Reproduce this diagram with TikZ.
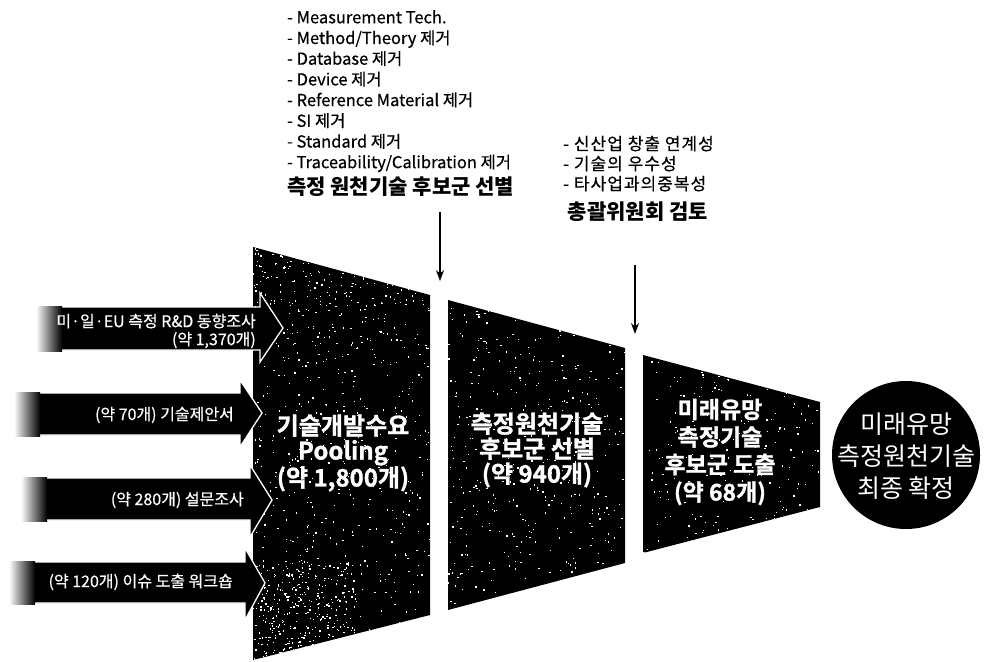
\documentclass[tikz,border=0pt]{standalone}
\usepackage{fontspec}
\setmainfont{Noto Sans CJK KR}
\newfontfamily\semibold[FakeBold=0.5]{Noto Sans CJK KR}
\newfontfamily\widesemi[FakeBold=0.5,LetterSpace=6]{Noto Sans CJK KR}
\newfontfamily\heavy[FakeBold=1.2]{Noto Sans CJK KR Bold}
\usetikzlibrary{arrows.meta}
\begin{document}
\begin{tikzpicture}[x=1pt,y=-1pt,
  funnel/.style={fill=black},
  inarrow/.style={fill=black,draw=white,line width=1.3pt,line join=miter},
  fadebox/.style={left color=white,right color=black,draw=none},
  downarrow/.style={draw=black,line width=1.3pt,-{Stealth[length=11pt,width=8pt]}},
  listtext/.style={anchor=base west,inner sep=0pt,font=\fontsize{16.5}{19}\semibold},
  list2text/.style={anchor=base west,inner sep=0pt,font=\fontsize{17}{19}\widesemi},
  headtext/.style={inner sep=0pt,font=\fontsize{21}{24}\selectfont\bfseries},
  funneltext/.style={text=white,align=center,inner sep=0pt,font=\fontsize{24}{25}\heavy},
  arrowtext/.style={text=white,inner sep=0pt,font=\fontsize{16}{18}\semibold},
  circtext/.style={text=white,align=center,inner sep=0pt,font=\fontsize{25}{32}\selectfont},
  speck/.style={fill=white}
]
\useasboundingbox (0,0) rectangle (987,661);
\pgfmathsetseed{11}

% ---------- funnels ----------
\fill[funnel] (253,247) -- (430,295) -- (430,615) -- (253,660) -- cycle;
\fill[funnel] (448,300) -- (625,348) -- (625,563) -- (448,610) -- cycle;
\fill[funnel] (643,355) -- (820,402) -- (820,507) -- (643,553) -- cycle;

\begin{scope}
\clip (253,247) -- (430,295) -- (430,615) -- (253,660) -- cycle;
\foreach \k in {1,...,600}{
  \pgfmathsetmacro{\px}{253+177*rnd}
  \pgfmathsetmacro{\py}{247+413*rnd}
  \fill[speck] (\px,\py) rectangle ++(1.3,1.3);
}
\foreach \k in {1,...,350}{
  \pgfmathsetmacro{\px}{253+100*rnd}
  \pgfmathsetmacro{\py}{560+100*rnd}
  \fill[speck] (\px,\py) rectangle ++(1.3,1.3);
}
\foreach \k in {1,...,150}{
  \pgfmathsetmacro{\px}{253+177*rnd}
  \pgfmathsetmacro{\py}{247+60*rnd}
  \fill[speck] (\px,\py) rectangle ++(1.3,1.3);
}
\end{scope}
\begin{scope}
\clip (448,300) -- (625,348) -- (625,563) -- (448,610) -- cycle;
\foreach \k in {1,...,450}{
  \pgfmathsetmacro{\px}{448+177*rnd}
  \pgfmathsetmacro{\py}{300+310*rnd}
  \fill[speck] (\px,\py) rectangle ++(1.3,1.3);
}
\end{scope}
\begin{scope}
\clip (643,355) -- (820,402) -- (820,507) -- (643,553) -- cycle;
\foreach \k in {1,...,220}{
  \pgfmathsetmacro{\px}{643+177*rnd}
  \pgfmathsetmacro{\py}{355+198*rnd}
  \fill[speck] (\px,\py) rectangle ++(1.3,1.3);
}
\end{scope}

% ---------- final circle ----------
\fill[black] (906,455) circle (74);

% ---------- input arrows ----------
\filldraw[inarrow] (37,307) -- (260,307) -- (260,293) -- (283,328) -- (260,362) -- (260,350) -- (37,350) -- cycle;
\shade[fadebox] (36,306) rectangle (62,351);
\filldraw[inarrow] (15,393) -- (240,393) -- (240,380) -- (262,413) -- (240,447) -- (240,435) -- (15,435) -- cycle;
\shade[fadebox] (14,392) rectangle (40,436);
\filldraw[inarrow] (22,478) -- (250,478) -- (250,465) -- (272,500) -- (250,537) -- (250,520) -- (22,520) -- cycle;
\shade[fadebox] (21,477) rectangle (47,521);
\filldraw[inarrow] (10,562) -- (245,562) -- (245,548) -- (265,583) -- (245,620) -- (245,603) -- (10,603) -- cycle;
\shade[fadebox] (9,561) rectangle (35,604);

\node[arrowtext,align=right,anchor=east] (a1) at (256,331) {미·일·EU 측정 R\&D 동향조사\\(약 1,370개)};
\node[arrowtext,anchor=east] (a2) at (234,415) {(약 70개) 기술제안서};
\node[arrowtext,anchor=east] (a3) at (244,500) {(약 280개) 설문조사};
\node[arrowtext,anchor=east] (a4) at (233,582) {(약 120개) 이슈 도출 워크숍};

% ---------- funnel labels ----------
\node[funneltext] (p1) at (343,453) {기술개발수요\\Pooling\\(약 1,800개)};
\node[funneltext] (p2) at (537,450) {측정원천기술\\후보군 선별\\(약 940개)};
\node[funneltext,font=\fontsize{23}{27.5}\heavy] (p3) at (720,452) {미래유망\\측정기술\\후보군 도출\\(약 68개)};
\node[circtext] (c) at (906,456) {미래유망\\측정원천기술\\최종 확정};

% ---------- criteria lists ----------
\foreach \t [count=\i] in {- Measurement Tech.,- Method/Theory 제거,- Database 제거,- Device 제거,- Reference Material 제거,- SI 제거,- Standard 제거,- Traceability/Calibration 제거}
  \node[listtext] (l\i) at (287,{2.6+20.7*\i}) {\t};
\node[headtext,anchor=base west] (t1) at (287,194) {측정 원천기술 후보군 선별};

\node[list2text] (m1) at (563,150) {- 신산업 창출 연계성};
\node[list2text] (m2) at (563,170) {- 기술의 우수성};
\node[list2text] (m3) at (563,190) {- 타사업과의중복성};
\node[headtext,anchor=base] (t2) at (638,219) {총괄위원회 검토};

% ---------- down arrows ----------
\coordinate (d1a) at (440,212);
\coordinate (d1b) at (440,281);
\coordinate (d2a) at (635,265);
\coordinate (d2b) at (635,334);
\draw[downarrow] (d1a) -- (d1b);
\draw[downarrow] (d2a) -- (d2b);
\end{tikzpicture}
\end{document}
